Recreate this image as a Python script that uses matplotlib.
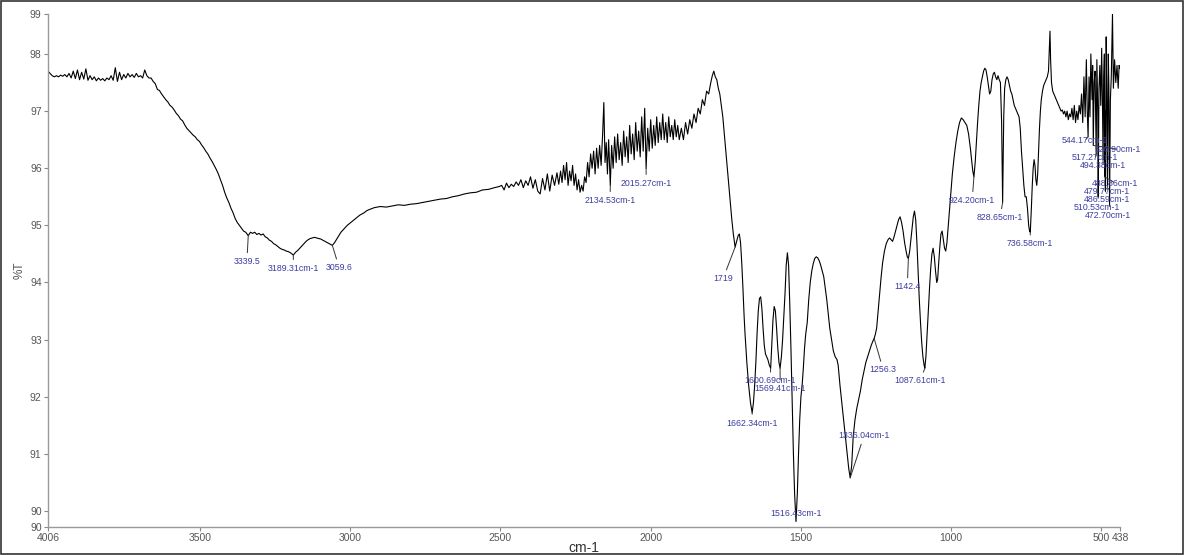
import numpy as np
import matplotlib
matplotlib.use("Agg")
import matplotlib.pyplot as plt
from matplotlib.patches import Rectangle

plt.rcParams['font.family'] = ['Liberation Sans', 'DejaVu Sans']

# ---------------- data ----------------
# 4006-3670 cm-1 : flat noisy baseline
wn_a = [4006, 3999, 3992, 3985, 3978, 3971, 3964, 3957, 3950, 3943, 3936, 3929, 3922, 3915,
        3908, 3901, 3894, 3887, 3880, 3873, 3866, 3859, 3852, 3845, 3838, 3831, 3824, 3817,
        3810, 3803, 3796, 3789, 3782, 3775, 3768, 3761, 3754, 3747, 3740, 3733, 3726, 3719,
        3712, 3705, 3698, 3691, 3684, 3677, 3670]
t_a = [97.70, 97.66, 97.62, 97.60, 97.62, 97.60, 97.63, 97.61, 97.64, 97.60, 97.66, 97.58, 97.70, 97.57,
       97.72, 97.55, 97.68, 97.56, 97.74, 97.54, 97.62, 97.55, 97.60, 97.53, 97.58, 97.54, 97.57, 97.53,
       97.58, 97.55, 97.62, 97.54, 97.76, 97.52, 97.68, 97.55, 97.64, 97.58, 97.66, 97.60, 97.64, 97.59,
       97.66, 97.60, 97.62, 97.58, 97.72, 97.62, 97.58]

# 3663-2940 cm-1 : O-H / N-H band
wn_b = [3663, 3656, 3649, 3642, 3635, 3628, 3621, 3614, 3607, 3600, 3593, 3586, 3579, 3572, 3565,
        3558, 3551, 3544, 3537, 3530, 3523, 3516, 3509, 3502, 3495, 3488, 3481, 3474, 3467, 3460,
        3453, 3446, 3439, 3432, 3425, 3418, 3411, 3404, 3397, 3390, 3383, 3376, 3369, 3362, 3355,
        3348, 3339.5, 3332, 3325, 3318, 3311, 3304, 3297, 3290, 3283, 3276, 3269, 3262, 3255, 3248,
        3241, 3234, 3227, 3220, 3213, 3206, 3199, 3189.31, 3182, 3175, 3168, 3161, 3154, 3147, 3140,
        3133, 3126, 3119, 3112, 3105, 3098, 3091, 3084, 3077, 3070, 3059.6, 3052, 3045, 3038, 3031,
        3024, 3017, 3010, 3003, 2996, 2989, 2982, 2975, 2968, 2961, 2954, 2947, 2940]
t_b = [97.58, 97.52, 97.48, 97.38, 97.36, 97.30, 97.25, 97.20, 97.16, 97.10, 97.07, 97.02, 96.96, 96.92, 96.86,
       96.83, 96.76, 96.70, 96.66, 96.62, 96.58, 96.55, 96.50, 96.47, 96.41, 96.36, 96.30, 96.25, 96.18, 96.12,
       96.05, 95.98, 95.90, 95.80, 95.70, 95.58, 95.48, 95.40, 95.30, 95.22, 95.12, 95.05, 95.00, 94.95, 94.90,
       94.88, 94.82, 94.88, 94.86, 94.88, 94.84, 94.86, 94.83, 94.85, 94.80, 94.78, 94.74, 94.72, 94.68, 94.66,
       94.63, 94.60, 94.58, 94.57, 94.55, 94.54, 94.52, 94.48, 94.53, 94.56, 94.60, 94.64, 94.68, 94.72, 94.75,
       94.77, 94.78, 94.79, 94.78, 94.77, 94.76, 94.74, 94.72, 94.70, 94.68, 94.65, 94.70, 94.76, 94.82, 94.88,
       94.92, 94.96, 95.00, 95.03, 95.06, 95.09, 95.12, 95.15, 95.18, 95.20, 95.22, 95.25, 95.27]

# 2920-2306 cm-1 : slowly rising baseline
wn_c = [2920, 2900, 2880, 2860, 2840, 2820, 2800, 2780, 2760, 2740, 2720, 2700, 2680, 2660, 2640,
        2620, 2600, 2580, 2560, 2540, 2520, 2504, 2496, 2488, 2480, 2472, 2464, 2456, 2448, 2440,
        2432, 2424, 2416, 2408, 2400, 2392, 2384, 2376, 2368, 2360, 2352, 2344, 2336, 2328, 2320,
        2312, 2306]
t_c = [95.31, 95.33, 95.32, 95.34, 95.36, 95.35, 95.37, 95.38, 95.40, 95.42, 95.44, 95.46, 95.47, 95.50, 95.52,
       95.55, 95.57, 95.58, 95.62, 95.63, 95.66, 95.68, 95.70, 95.62, 95.74, 95.66, 95.72, 95.68, 95.76, 95.70,
       95.80, 95.66, 95.78, 95.70, 95.85, 95.65, 95.80, 95.60, 95.55, 95.82, 95.62, 95.90, 95.60, 95.88, 95.70,
       95.92, 95.72]

# 2300-1905 cm-1 : noisy region
wn_d = [2300, 2295, 2290, 2285, 2280, 2275, 2270, 2265, 2260, 2255, 2250, 2245, 2240, 2235, 2230,
        2225, 2220, 2215, 2210, 2205, 2200, 2195, 2190, 2185, 2180, 2175, 2170, 2165, 2160, 2156,
        2152, 2148, 2144, 2140, 2134.53, 2130, 2125, 2120, 2115, 2110, 2105, 2100, 2095, 2090, 2085,
        2080, 2075, 2070, 2065, 2060, 2055, 2050, 2045, 2040, 2035, 2030, 2025, 2020, 2015.27, 2010,
        2005, 2000, 1995, 1990, 1985, 1980, 1975, 1970, 1965, 1960, 1955, 1950, 1945, 1940, 1935,
        1930, 1925, 1920, 1915, 1910, 1905]
t_d = [95.95, 95.75, 96.05, 95.80, 96.10, 95.70, 95.95, 95.78, 96.05, 95.70, 95.90, 95.62, 95.80, 95.58, 95.70,
       95.60, 95.85, 95.75, 96.10, 95.85, 96.25, 96.00, 96.30, 95.90, 96.35, 96.00, 96.40, 96.05, 96.60, 97.15,
       96.10, 96.45, 95.90, 96.50, 95.70, 96.40, 96.00, 96.55, 96.10, 96.60, 96.15, 96.45, 96.05, 96.65, 96.20,
       96.55, 96.10, 96.75, 96.25, 96.60, 96.15, 96.80, 96.30, 96.65, 96.20, 96.90, 96.30, 97.05, 96.00, 96.70,
       96.30, 96.85, 96.35, 96.75, 96.40, 96.90, 96.45, 96.80, 96.50, 96.95, 96.50, 96.80, 96.45, 96.90, 96.55,
       96.75, 96.50, 96.85, 96.55, 96.75, 96.50]

# 1898-1030 cm-1 : fingerprint bands
wn_e = [1898, 1891, 1884, 1877, 1870, 1863, 1856, 1849, 1842, 1835, 1828, 1821, 1814, 1807, 1800,
        1795, 1790, 1785, 1780, 1775, 1770, 1765, 1760, 1755, 1750, 1745, 1740, 1735, 1730, 1725,
        1719, 1714, 1709, 1705, 1701, 1697, 1693, 1689, 1686, 1680, 1674, 1668, 1662.34, 1658, 1654,
        1650, 1646, 1642, 1638, 1634, 1630, 1626, 1622, 1618, 1614, 1610, 1605, 1600.69, 1597, 1593,
        1589, 1585, 1581, 1577, 1573, 1569.41, 1565, 1561, 1557, 1553, 1549, 1545, 1541, 1537, 1533,
        1529, 1525, 1521, 1516.43, 1512, 1508, 1504, 1500, 1496, 1492, 1488, 1484, 1479, 1474, 1469,
        1464, 1459, 1454, 1449, 1444, 1439, 1434, 1429, 1424, 1419, 1414, 1409, 1404, 1398, 1392,
        1386, 1380, 1376, 1370, 1364, 1358, 1352, 1346, 1341, 1336.04, 1331, 1326, 1320, 1314, 1308,
        1302, 1296, 1290, 1284, 1278, 1272, 1266, 1260, 1256.3, 1252, 1248, 1243, 1238, 1233, 1228,
        1222, 1216, 1210, 1205, 1200, 1195, 1190, 1185, 1180, 1175, 1170, 1165, 1160, 1155, 1150,
        1146, 1142.4, 1138, 1134, 1130, 1126, 1122, 1118, 1114, 1110, 1106, 1102, 1098, 1094, 1090,
        1087.61, 1084, 1080, 1076, 1072, 1068, 1064, 1060, 1056, 1052, 1048, 1045, 1042, 1038, 1034,
        1030]
t_e = [96.70, 96.50, 96.80, 96.60, 96.85, 96.70, 96.95, 96.80, 97.05, 96.95, 97.20, 97.10, 97.35, 97.30, 97.50,
       97.62, 97.70, 97.60, 97.55, 97.40, 97.30, 97.10, 96.90, 96.60, 96.30, 96.00, 95.70, 95.40, 95.10, 94.85,
       94.62, 94.72, 94.82, 94.85, 94.70, 94.35, 93.90, 93.40, 93.10, 92.60, 92.20, 91.90, 91.72, 91.90, 92.20,
       92.60, 93.10, 93.50, 93.72, 93.75, 93.55, 93.20, 92.90, 92.75, 92.70, 92.65, 92.55, 92.50, 92.90, 93.35,
       93.58, 93.50, 93.20, 92.85, 92.60, 92.50, 92.70, 93.00, 93.40, 93.80, 94.30, 94.52, 94.30, 93.60, 92.80,
       91.90, 91.00, 90.30, 89.82, 90.30, 91.00, 91.60, 92.00, 92.20, 92.50, 92.85, 93.10, 93.30, 93.70, 94.00,
       94.20, 94.33, 94.42, 94.45, 94.43, 94.38, 94.30, 94.20, 94.10, 93.90, 93.70, 93.45, 93.20, 93.00, 92.80,
       92.70, 92.65, 92.55, 92.20, 91.90, 91.60, 91.30, 91.00, 90.75, 90.58, 90.80, 91.30, 91.60, 91.80, 91.95,
       92.10, 92.30, 92.45, 92.60, 92.70, 92.80, 92.90, 92.98, 93.02, 93.10, 93.20, 93.50, 93.80, 94.10, 94.35,
       94.55, 94.68, 94.75, 94.78, 94.75, 94.72, 94.80, 94.90, 95.00, 95.10, 95.15, 95.05, 94.90, 94.70, 94.55,
       94.45, 94.42, 94.55, 94.75, 94.95, 95.15, 95.25, 95.10, 94.70, 94.20, 93.70, 93.30, 92.95, 92.70, 92.55,
       92.50, 92.70, 93.10, 93.50, 93.90, 94.25, 94.50, 94.60, 94.45, 94.20, 94.00, 94.05, 94.30, 94.60, 94.85,
       94.90]

# 1026-438 cm-1 : low-wavenumber region
wn_f = [1026, 1022, 1018, 1014, 1008, 1002, 996, 990, 984, 978, 972, 966, 960, 954, 948,
        942, 936, 932, 928, 924.2, 920, 916, 912, 908, 904, 900, 896, 892, 888, 884,
        880, 876, 872, 868, 864, 860, 856, 852, 848, 844, 840, 836, 832, 828.65, 825,
        822, 818, 814, 810, 806, 802, 798, 794, 790, 786, 782, 778, 774, 770, 766,
        762, 758, 754, 750, 746, 742, 739, 736.58, 733, 730, 727, 724, 721, 718, 715,
        712, 709, 706, 703, 700, 696, 692, 688, 684, 680, 676, 673, 671, 669, 666,
        662, 658, 654, 650, 646, 642, 638, 634, 630, 626, 622, 618, 614, 610, 606,
        602, 598, 594, 590, 586, 582, 578, 574, 570, 566, 562, 558, 554, 550, 547,
        544.17, 541, 538, 535, 531, 529, 526.9, 524, 521, 517.27, 515, 512, 510.53, 508, 505,
        502, 499, 496.5, 494.38, 492, 490, 488.86, 487.5, 486.59, 484, 482, 479.77, 477, 475, 472.7,
        470, 467, 463, 460, 456, 452, 448, 444, 441, 438]
t_f = [94.75, 94.60, 94.55, 94.70, 95.10, 95.50, 95.90, 96.20, 96.45, 96.65, 96.80, 96.88, 96.85, 96.80, 96.75,
       96.60, 96.35, 96.15, 95.95, 95.85, 96.10, 96.45, 96.80, 97.10, 97.35, 97.50, 97.60, 97.70, 97.75, 97.72,
       97.60, 97.45, 97.30, 97.35, 97.55, 97.65, 97.68, 97.60, 97.55, 97.62, 97.55, 97.50, 96.80, 95.40, 96.90,
       97.40, 97.55, 97.60, 97.55, 97.45, 97.35, 97.30, 97.20, 97.10, 97.05, 97.00, 96.95, 96.90, 96.70, 96.30,
       96.00, 95.70, 95.50, 95.50, 95.30, 95.00, 94.90, 94.88, 95.30, 95.70, 96.00, 96.15, 96.05, 95.80, 95.70,
       95.90, 96.30, 96.70, 97.00, 97.20, 97.35, 97.45, 97.50, 97.55, 97.60, 97.70, 98.10, 98.40, 97.90, 97.50,
       97.35, 97.30, 97.25, 97.20, 97.15, 97.10, 97.05, 97.00, 97.02, 96.95, 97.00, 96.90, 97.00, 96.85, 96.95,
       96.90, 97.05, 96.85, 97.10, 96.80, 97.00, 96.85, 97.10, 96.95, 97.30, 96.80, 97.60, 96.90, 97.90, 97.00,
       96.55, 97.60, 96.90, 98.00, 97.20, 97.80, 96.40, 97.50, 97.70, 96.25, 97.90, 97.00, 95.50, 97.40, 97.80,
       97.10, 98.10, 97.20, 96.15, 97.60, 98.00, 95.85, 97.00, 95.60, 98.30, 97.30, 95.70, 98.00, 97.40, 95.35,
       97.20, 97.60, 98.70, 97.40, 97.90, 97.50, 97.80, 97.40, 97.80, 97.75]

# peak labels
peak_names = ["3339.5", "3189.31cm-1", "3059.6", "2134.53cm-1", "2015.27cm-1", "1719",
              "1662.34cm-1", "1600.69cm-1", "1569.41cm-1", "1516.43cm-1", "1336.04cm-1", "1256.3",
              "1142.4", "1087.61cm-1", "924.20cm-1", "828.65cm-1", "736.58cm-1",
              "544.17cm-1", "526.90cm-1", "517.27cm-1", "494.38cm-1", "488.86cm-1",
              "479.77cm-1", "486.59cm-1", "510.53cm-1", "472.70cm-1"]
peak_wn = [3339.5, 3189.31, 3059.6, 2134.53, 2015.27, 1719,
           1662.34, 1600.69, 1569.41, 1516.43, 1336.04, 1256.3,
           1142.4, 1087.61, 924.2, 828.65, 736.58,
           544.17, 526.9, 517.27, 494.38, 488.86,
           479.77, 486.59, 510.53, 472.7]

# label placement (layout only): text centre in data coordinates
label_x = [3344, 3190, 3037, 2135, 2015, 1759,
           1662, 1603, 1569, 1516, 1290, 1226,
           1146, 1103, 930, 837, 737,
           554, 444, 521, 494, 454,
           481, 481, 514, 477]
label_y = [94.37, 94.25, 94.26, 95.44, 95.74, 94.07,
           91.54, 92.28, 92.14, 89.96, 91.32, 92.47,
           93.93, 92.28, 95.44, 95.14, 94.68,
           96.49, 96.33, 96.18, 96.05, 95.74,
           95.60, 95.46, 95.32, 95.18]

xticks = [4006, 3500, 3000, 2500, 2000, 1500, 1000, 500, 438]
xtick_labels = ["4006", "3500", "3000", "2500", "2000", "1500", "1000", "500", "438"]
y_min, y_max = 89.72, 98.70
yticks = [y_min, 90, 91, 92, 93, 94, 95, 96, 97, 98, y_max]
ytick_labels = ["90", "90", "91", "92", "93", "94", "95", "96", "97", "98", "99"]

# ---------------- drawing ----------------
wn = np.array(wn_a + wn_b + wn_c + wn_d + wn_e + wn_f, dtype=float)
tr = np.array(t_a + t_b + t_c + t_d + t_e + t_f, dtype=float)

W, H = 1185, 555
fig = plt.figure(figsize=(W / 100, H / 100), dpi=100)
ax = fig.add_axes([48 / W, 28 / H, (1120 - 48) / W, (527 - 14) / H])

ax.plot(wn, tr, color="black", lw=0.8)
ax.set_xlim(4006, 438)
ax.set_ylim(y_min, y_max)

ax.set_xticks(xticks)
ax.set_xticklabels(xtick_labels)
ax.set_yticks(yticks)
ax.set_yticklabels(ytick_labels)
ax.tick_params(axis="both", labelsize=7.5, labelcolor="#555555", color="#888888",
               length=3, width=0.8, pad=1.5)

for s in ("top", "right"):
    ax.spines[s].set_visible(False)
for s in ("left", "bottom"):
    ax.spines[s].set_color("#999999")
    ax.spines[s].set_linewidth(1.0)

# order so that text is centred on itself
order_wn = np.argsort(wn)
for name, pw, lx, ly in zip(peak_names, peak_wn, label_x, label_y):
    pt = float(np.interp(pw, wn[order_wn], tr[order_wn]))
    ax.annotate(name, xy=(pw, pt), xytext=(lx, ly), textcoords="data",
                fontsize=6.3, color="#3c3ca0", ha="center", va="center",
                annotation_clip=False,
                arrowprops=dict(arrowstyle="-", color="#333333", lw=0.7,
                                shrinkA=1, shrinkB=0))

fig.text(584 / W, 1 - 548 / H, "cm-1", ha="center", va="center", fontsize=10, color="#333333")
fig.text(20 / W, 1 - 270 / H, "%T", ha="center", va="center", rotation=90,
         fontsize=8.5, color="#555555")

fig.patches.append(Rectangle((0.001, 0.002), 0.997, 0.996, transform=fig.transFigure,
                             fill=False, edgecolor="#333333", lw=1.2))

fig.savefig("out.png", dpi=100)
